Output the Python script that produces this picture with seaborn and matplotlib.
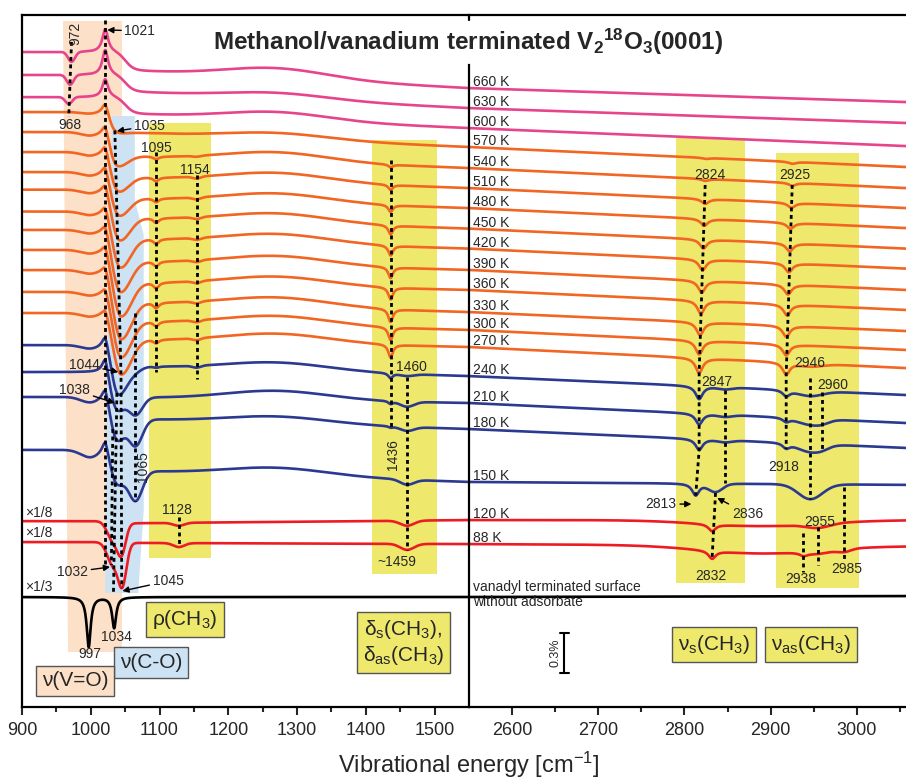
import numpy as np
import pandas as pd
import matplotlib
matplotlib.use("Agg")
import matplotlib.pyplot as plt
import seaborn as sns

# ------------------------------------------------------------------
# IRAS spectra of methanol on vanadium-terminated V2(18)O3(0001)
# Signal: Delta R/R in units of 0.01 %, each trace stacked at its offset
# ------------------------------------------------------------------
temperatures = ["660 K", "630 K", "600 K", "570 K", "540 K", "510 K", "480 K",
                "450 K", "420 K", "390 K", "360 K", "330 K", "300 K", "270 K",
                "240 K", "210 K", "180 K", "150 K", "120 K", "88 K"]
trace_group = ["hot"] * 3 + ["warm"] * 11 + ["cold"] * 4 + ["dose"] * 2

# baseline of every trace
offset = [464.2, 449.2, 434.2, 420.0, 404.2, 389.2, 374.2, 358.8, 343.8, 327.8,
          312.8, 296.2, 282.8, 270.0, 248.2, 228.0, 208.5, 168.8, 140.2, 122.2]
rise_900 = [27.0, 24.8, 23.2, 26.2, 27.0, 27.0, 27.0, 29.2, 27.8, 30.0,
            30.0, 31.5, 28.5, 25.5, 23.2, 23.2, 24.0, 24.0, -0.8, 1.5]
rise_1100 = [12.0, 11.2, 9.8, 9.8, 8.2, 7.5, 6.8, 7.5, 6.8, 6.0,
             5.2, 6.8, 6.0, 5.2, 6.8, 3.8, 6.8, 7.5, -2.2, 0.8]
drop_3057 = [-10.5, -11.2, -13.5, -15.0, -15.0, -15.0, -15.0, -15.0, -15.0, -15.0,
             -15.0, -14.2, -15.0, -15.8, -14.2, -15.0, -14.2, -2.2, 0.0, -1.5]
hump_1270 = [7.5, 4.5, 6.0, 4.5, 6.8, 6.8, 6.8, 6.8, 6.8, 6.8,
             6.8, 6.8, 6.8, 6.8, 6.0, 6.8, 5.2, 6.0, 0.0, 0.0]
step_pos = [1050, 1050, 1050] + [1028] * 15 + [1030, 1030]
step_width = [12, 12, 12] + [7] * 17

# nu(V=O) region
vo_amp = [17.2, 18.8, 13.5, 8.2, 7.9, 7.5, 7.2, 7.0, 6.8, 6.5,
          6.2, 6.0, 5.8, 5.5, 9.0, 12.0, 9.5, 10.0, 0.0, 0.0]
vo_low_pos = [972, 970, 968] + [970] * 17
vo_low_amp = [7.5, 7.5, 5.2] + [0.0] * 17
pre_amp = [0, 0, 0, 1.5, 3, 3, 3, 3, 3, 3, 3, 3, 3, 3, 3, 0, 4.5, 6, 0, 0]

# nu(C-O) region (two components, first one asymmetric)
co1_pos = [1035, 1035, 1035, 1035, 1038, 1040, 1041, 1042, 1043, 1043,
           1044, 1044, 1044, 1044, 1040, 1038, 1038, 1038, 1032, 1032]
co1_amp = [0, 0, 0, 1.5, 9.0, 12.0, 14.2, 18.0, 22.5, 24.0,
           26.2, 28.5, 27.8, 27.0, 22.5, 11.2, 17.2, 11.2, 13.5, 16.5]
co1_left = [9] * 14 + [8] * 4 + [8, 8]
co1_right = [15] * 14 + [13, 10, 10, 10, 8, 8]
co2_pos = [1065] * 18 + [1045, 1046]
co2_amp = [0] * 14 + [3.0, 13.5, 20.2, 22.5, 21.0, 30.0]
co2_width = [10] * 18 + [6, 6]

# rho(CH3) and delta(CH3)
rho_1095 = [0, 0, 0, 0, 2.2, 3.0, 3.0, 3.8, 3.8, 3.8, 4.5, 4.5, 3.8, 3.0, 1.1, 0, 0, 0, 0, 0]
rho_1154 = [0, 0, 0, 0, 0.8, 1.5, 1.5, 1.5, 1.5, 1.5, 1.5, 1.5, 1.5, 1.5, 1.5, 0, 0, 0, 0, 0]
rho_1128 = [0] * 18 + [2.2, 3.0]
def_1436 = [0, 0, 0, 0, 2.2, 3.8, 5.2, 6.8, 7.5, 8.2, 9.0, 9.8, 9.8, 9.8, 3.8, 2.2, 1.1, 0, 0, 0]
def_1460 = [0] * 14 + [1.5, 3.8, 3.0, 3.8, 3.8, 4.5]

# nu_s(CH3) and nu_as(CH3)
nus_pos = [2825, 2825, 2825, 2825, 2824, 2824, 2823, 2822, 2821, 2820,
           2819, 2818, 2817, 2817, 2817, 2817, 2817, 2813, 2832, 2832]
nus_amp = [0, 0, 0, 0.8, 1.5, 3.8, 5.2, 6.8, 8.2, 9.0,
           9.8, 9.8, 10.5, 11.2, 9.8, 8.2, 8.2, 9.0, 5.2, 6.0]
nus2_pos = [2847] * 17 + [2836, 2847, 2847]
nus2_amp = [0] * 14 + [1.5, 1.5, 1.5, 6.0, 0, 0]
nuas_pos = [2925, 2925, 2925, 2925, 2925, 2924, 2923, 2922, 2921, 2920,
            2919, 2918, 2918, 2918, 2918, 2918, 2918, 2918, 2938, 2938]
nuas_amp = [0, 0, 0, 1.5, 2.2, 3.8, 4.5, 6.0, 6.8, 7.5,
            8.2, 8.2, 8.2, 9.0, 4.5, 3.0, 3.8, 0, 0, 2.2]
nuas2_pos = [2946] * 18 + [2955, 2955]
nuas2_amp = [0] * 13 + [2.2, 3.8, 4.5, 6.0, 11.2, 3.0, 2.2]
nuas3_pos = [2960] * 18 + [2985, 2985]
nuas3_amp = [0] * 15 + [1.5, 1.5, 0, 0, 2.2]
broad_2890 = [0] * 18 + [4.5, 6.0]

# clean vanadyl-terminated surface (x 1/3)
ref_offset = 82.5
ref_bands = [997, 1034]
ref_depth = [37.5, 23.2]

colours = {"hot": "#E8448C", "warm": "#F26522", "cold": "#2B3990",
           "dose": "#ED1C24", "ref": "#000000"}


def lorentz(x, c, hw):
    return 1.0 / (1.0 + ((x - c) / hw) ** 2)


def gauss(x, c, s):
    return np.exp(-0.5 * ((x - c) / s) ** 2)


def skew_gauss(x, c, s_left, s_right):
    s = np.where(x < c, s_left, s_right)
    return np.exp(-0.5 * ((x - c) / s) ** 2)


def low_signal(i, wn):
    wn = np.asarray(wn, dtype=float)
    line = offset[i] + rise_1100[i] * (1550 - wn) / 450
    left = offset[i] + rise_900[i]
    s = 0.5 * (1 + np.tanh((wn - step_pos[i]) / step_width[i]))
    y = left * (1 - s) + line * s + hump_1270[i] * gauss(wn, 1270, 75)
    y = y + vo_amp[i] * lorentz(wn, 1021, 5)
    y = y - vo_low_amp[i] * gauss(wn, vo_low_pos[i], 5)
    y = y - pre_amp[i] * gauss(wn, 1000, 14)
    y = y - co1_amp[i] * skew_gauss(wn, co1_pos[i], co1_left[i], co1_right[i])
    y = y - co2_amp[i] * gauss(wn, co2_pos[i], co2_width[i])
    y = y - rho_1095[i] * lorentz(wn, 1095, 5)
    y = y - rho_1154[i] * gauss(wn, 1154, 6)
    y = y - rho_1128[i] * gauss(wn, 1128, 8)
    y = y - def_1436[i] * lorentz(wn, 1436, 4)
    y = y - def_1460[i] * gauss(wn, 1460, 10)
    return y


def high_signal(i, wn):
    wn = np.asarray(wn, dtype=float)
    y = offset[i] + drop_3057[i] * (wn - 2550) / 507
    y = y - nus_amp[i] * lorentz(wn, nus_pos[i], 5)
    y = y - nus2_amp[i] * gauss(wn, nus2_pos[i], 8)
    y = y - nuas_amp[i] * lorentz(wn, nuas_pos[i], 5)
    y = y - nuas2_amp[i] * gauss(wn, nuas2_pos[i], 14)
    y = y - nuas3_amp[i] * gauss(wn, nuas3_pos[i], 8)
    y = y - broad_2890[i] * gauss(wn, 2890, 70)
    return y


def ref_low(wn):
    y = ref_offset + 0 * wn
    for c, d in zip(ref_bands, ref_depth):
        y = y - d * lorentz(wn, c, 3.5)
    return y


def ref_high(wn):
    return ref_offset + 0.7 * (wn - 2550) / 507


def value_at(anchor, wn, high=False):
    if isinstance(anchor, str):
        i = temperatures.index(anchor)
        return float(high_signal(i, wn) if high else low_signal(i, wn))
    return anchor


wn_low = np.arange(900, 1550.01, 0.5)
wn_high = np.arange(2550, 3057.01, 0.5)

rows_low, rows_high = [], []
for i, t in enumerate(temperatures):
    rows_low.append(pd.DataFrame({"wn": wn_low, "signal": low_signal(i, wn_low), "trace": t}))
    rows_high.append(pd.DataFrame({"wn": wn_high, "signal": high_signal(i, wn_high), "trace": t}))
rows_low.append(pd.DataFrame({"wn": wn_low, "signal": ref_low(wn_low), "trace": "vanadyl"}))
rows_high.append(pd.DataFrame({"wn": wn_high, "signal": ref_high(wn_high), "trace": "vanadyl"}))
df_low = pd.concat(rows_low, ignore_index=True)
df_high = pd.concat(rows_high, ignore_index=True)

palette = {t: colours[g] for t, g in zip(temperatures, trace_group)}
palette["vanadyl"] = colours["ref"]

# ------------------------------------------------------------------
sns.set_theme(style="white")
plt.rcParams["font.family"] = ["Liberation Sans", "DejaVu Sans"]
plt.rcParams["mathtext.fontset"] = "custom"
plt.rcParams["mathtext.rm"] = "Liberation Sans"
plt.rcParams["mathtext.it"] = "Liberation Sans:italic"
plt.rcParams["mathtext.bf"] = "Liberation Sans:bold"

fig = plt.figure(figsize=(9.06, 7.81), dpi=100)
ax_l = fig.add_axes([22 / 906, 74 / 781, 447 / 906, 692 / 781])
ax_r = fig.add_axes([469 / 906, 74 / 781, 437 / 906, 692 / 781])
YMAX = 519

PEACH, LBLUE, YELLOW = "#FCE1C8", "#CDE2F3", "#EEE96C"

# band regions
ax_l.fill([960, 1045, 1045, 967], [514.5, 514.5, 41.2, 41.2], color=PEACH, lw=0, zorder=0)
ax_l.fill([1031, 1064, 1064, 1077, 1077, 1069, 1021, 1023],
          [443.2, 443.2, 380.2, 354.0, 147.8, 85.5, 85.5, 230.2], color=LBLUE, lw=0, zorder=0)
ax_l.fill([1085, 1175, 1175, 1085], [438.0, 438.0, 111.8, 111.8], color=YELLOW, lw=0, zorder=0)
ax_l.fill([1409, 1503, 1503, 1409], [425.2, 425.2, 99.8, 99.8], color=YELLOW, lw=0, zorder=0)
ax_r.fill([2790, 2870, 2870, 2790], [426.8, 426.8, 93.0, 93.0], color=YELLOW, lw=0, zorder=0)
ax_r.fill([2906, 3002, 3002, 2906], [415.5, 415.5, 89.2, 89.2], color=YELLOW, lw=0, zorder=0)

for ax, df in ((ax_l, df_low), (ax_r, df_high)):
    sns.lineplot(data=df, x="wn", y="signal", hue="trace", palette=palette,
                 estimator=None, sort=False, legend=False, linewidth=1.9, ax=ax, zorder=2)

# dotted guide lines through band positions
guides_low = [
    [(972, 498.8), (968, 442.5)],
    [(1021, 515.2), (1021, 104.2)],
    [(1035, "570 K"), (1044, "270 K"), (1045, "88 K")],
    [(1038, "240 K"), (1033, 86.0)],
    [(1032, "180 K"), (1030, "88 K")],
    [(1065, 295.5), (1065, "150 K")],
    [(1095, 416.2), (1095, 251.2)],
    [(1154, 399.0), (1154, 246.0)],
    [(1128, 142.5), (1128, "88 K")],
    [(1436, 410.2), (1436, "180 K")],
    [(1460, 247.5), (1460, "88 K")],
]
guides_high = [
    [(2824, 391.5), (2817, "270 K"), (2817, "180 K"), (2813, "150 K")],
    [(2847, 237.8), (2847, 168.0)],
    [(2836, 160.5), (2832, "88 K")],
    [(2925, 391.5), (2918, "270 K"), (2918, "180 K")],
    [(2946, 246.8), (2946, "150 K")],
    [(2960, 236.2), (2960, "180 K")],
    [(2955, 135.0), (2955, 106.5)],
    [(2938, 130.5), (2938, 101.2)],
    [(2985, 165.0), (2985, 109.0)],
]
for ax, guides, high in ((ax_l, guides_low, False), (ax_r, guides_high, True)):
    for g in guides:
        xs = [p[0] for p in g]
        ys = [value_at(p[1], p[0], high) for p in g]
        ax.plot(xs, ys, color="black", lw=2.0, linestyle=(0, (1.4, 1.3)),
                dash_capstyle="butt", zorder=3)

# band position labels
FS = 10
labels_low = [
    ("968", 970, 436.5, 0), ("1095", 1096, 419.2, 0), ("1154", 1152, 402.8, 0),
    ("1128", 1125, 147.8, 0), ("997", 999, 39.8, 0), ("1034", 1038, 52.5, 0),
    ("1460", 1467, 255.0, 0), ("~1459", 1445, 108.8, 0),
    ("972", 977, 505.5, 90), ("1065", 1076, 180.0, 90), ("1436", 1440, 189.0, 90),
]
for txt, x, y, rot in labels_low:
    ax_l.text(x, y, txt, fontsize=FS, ha="center", va="center", rotation=rot, zorder=5)

labels_high = [
    ("2824", 2829, 399.0), ("2925", 2928, 399.0), ("2847", 2838, 243.8),
    ("2946", 2945, 258.0), ("2960", 2972, 241.5), ("2918", 2915, 180.0),
    ("2955", 2957, 138.8), ("2832", 2831, 98.2), ("2938", 2935, 96.0),
    ("2985", 2988, 103.5),
]
for txt, x, y in labels_high:
    ax_r.text(x, y, txt, fontsize=FS, ha="center", va="center", zorder=5)

arrow = dict(arrowstyle="-|>", color="black", lw=1.0, mutation_scale=9, shrinkA=0, shrinkB=0)
arrows_low = [
    ("1021", (1024, 507.8), (1049, 507.0), "left"),
    ("1035", (1038, 432.0), (1063, 435.8), "left"),
    ("1044", (1040, 251.2), (1013, 256.5), "right"),
    ("1038", (1035, 228.0), (999, 237.8), "right"),
    ("1032", (1028, 105.0), (996, 101.2), "right"),
    ("1045", (1046, 87.0), (1090, 94.5), "left"),
]
for txt, tip, pos, ha in arrows_low:
    ax_l.annotate(txt, xy=tip, xytext=pos, fontsize=FS, ha=ha, va="center",
                  arrowprops=arrow, zorder=5)
arrows_high = [
    ("2813", (2808, 152.2), (2773, 152.2), "center"),
    ("2836", (2838, 156.8), (2873, 144.8), "center"),
]
for txt, tip, pos, ha in arrows_high:
    ax_r.annotate(txt, xy=tip, xytext=pos, fontsize=FS, ha=ha, va="center",
                  arrowprops=arrow, zorder=5)

for txt, y in (("\u00d71/8", 145.5), ("\u00d71/8", 130.5), ("\u00d71/3", 90.0)):
    ax_l.text(904, y, txt, fontsize=FS, ha="left", va="center")

# temperature labels just above each trace
for i, t in enumerate(temperatures):
    ax_r.text(2555, float(high_signal(i, 2556)) + 4.5, t, fontsize=10, ha="left", va="center")
ax_r.text(2555, 90.0, "vanadyl terminated surface", fontsize=10, ha="left", va="center")
ax_r.text(2555, 78.8, "without adsorbate", fontsize=10, ha="left", va="center")

# scale bar
ax_r.plot([2660.5, 2660.5], [25.5, 55.5], color="black", lw=1.5)
for yb in (25.5, 55.5):
    ax_r.plot([2655.5, 2665.5], [yb, yb], color="black", lw=1.5)
ax_r.text(2650, 40.5, "0.3%", fontsize=9, rotation=90, ha="center", va="center")


# band assignment boxes
def band_box(ax, x, y, txt, fc):
    ax.text(x, y, txt, fontsize=15, ha="center", va="center", zorder=6,
            bbox=dict(boxstyle="square,pad=0.28", fc=fc, ec="#555555", lw=1.0))


band_box(ax_l, 1137, 65.6, "\u03c1(CH$_3$)", YELLOW)
band_box(ax_l, 1088, 33.4, "\u03bd(C-O)", LBLUE)
band_box(ax_l, 977, 19.5, "\u03bd(V=O)", PEACH)
band_box(ax_l, 1455, 48.4, "\u03b4$_\\mathrm{s}$(CH$_3$),\n\u03b4$_\\mathrm{as}$(CH$_3$)", YELLOW)
band_box(ax_r, 2834, 47.0, "\u03bd$_\\mathrm{s}$(CH$_3$)", YELLOW)
band_box(ax_r, 2946.5, 47.0, "\u03bd$_\\mathrm{as}$(CH$_3$)", YELLOW)

# axes styling
for ax in (ax_l, ax_r):
    ax.set_ylim(0, YMAX)
    ax.set_yticks([])
    ax.set_xlabel("")
    ax.set_ylabel("")
    ax.spines["right"].set_visible(False)
    for sp in ("top", "bottom", "left"):
        ax.spines[sp].set_linewidth(1.6)
        ax.spines[sp].set_color("black")
    ax.tick_params(axis="x", which="major", direction="out", length=6, width=1.5,
                   labelsize=13, pad=5, bottom=True, top=False)
    ax.tick_params(axis="x", which="minor", direction="out", length=3.5, width=1.5,
                   bottom=True, top=False)
    ax.patch.set_alpha(0)

ax_l.set_xlim(900, 1550)
ax_l.set_xticks(range(900, 1501, 100))
ax_l.set_xticks(range(950, 1501, 100), minor=True)
ax_r.set_xlim(2550, 3057)
ax_r.set_xticks(range(2600, 3001, 100))
ax_r.set_xticks(range(2650, 3051, 100), minor=True)
ax_r.spines["left"].set_bounds(0, 481.5)
ax_r.plot([2550, 2550], [YMAX - 4, YMAX], color="black", lw=1.6, clip_on=False)

fig.text(468 / 906, 1 - 42 / 781,
         "Methanol/vanadium terminated V$_\\mathbf{2}$$^\\mathbf{18}$O$_\\mathbf{3}$(0001)",
         fontsize=17.5, fontweight="bold", ha="center", va="center")
fig.text(469 / 906, 1 - 765 / 781, "Vibrational energy [cm$^{-1}$]",
         fontsize=17, ha="center", va="center")

fig.savefig("out.png", dpi=100)
